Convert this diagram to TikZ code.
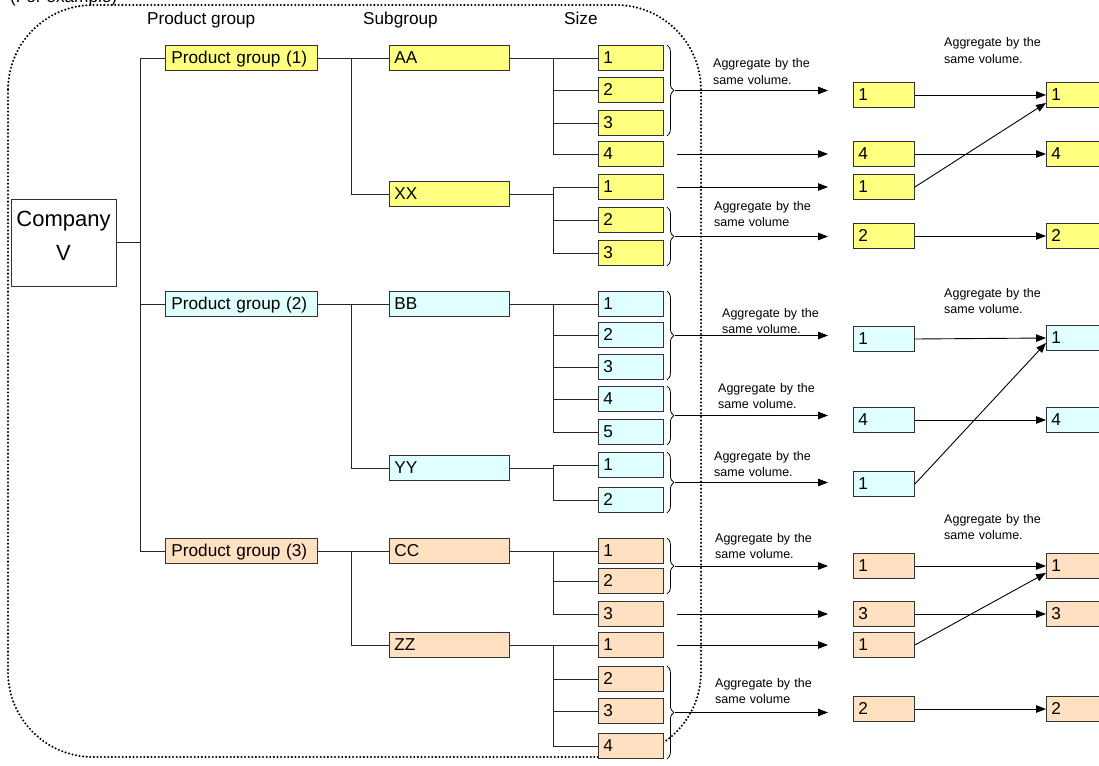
\documentclass[tikz,border=0pt]{standalone}
\usepackage{fontspec}
\setmainfont{Liberation Sans}
\usetikzlibrary{positioning,arrows.meta,calc,decorations.pathreplacing}

\definecolor{grpyellow}{RGB}{255,255,128}
\definecolor{grpcyan}{RGB}{224,255,255}
\definecolor{grppeach}{RGB}{255,224,192}

\begin{document}
\begin{tikzpicture}[x=1pt,y=-1pt,
  box/.style={draw=black!80, line width=0.9pt, anchor=west, align=left,
    minimum height=25pt, inner xsep=5pt, inner ysep=0pt,
    text height=13pt, text depth=2pt, font=\fontsize{17.2}{19}\selectfont},
  pgbox/.style={box, text width=140pt, inner xsep=6pt},
  subbox/.style={box, text width=110pt},
  sizebox/.style={box, text width=55pt},
  volbox/.style={box, text width=51pt},
  head/.style={anchor=base west, inner sep=0pt, font=\fontsize{17.2}{19}\selectfont},
  note/.style={anchor=base west, inner sep=0pt, text width=120pt, align=left,
    font=\fontsize{12.5}{16.5}\selectfont},
  conn/.style={line width=0.9pt, draw=black!85},
  arr/.style={line width=0.9pt, -{Triangle[length=10pt,width=7.5pt]}},
  brc/.style={line width=0.8pt, decorate, decoration={brace,amplitude=7pt}}]
\useasboundingbox (0,0) rectangle (1099,765);
\clip (0,0) rectangle (1099,765);

% dotted frame round the tree
\draw[line width=2.3pt, line cap=round, dash pattern=on 0pt off 3.6pt,
  rounded corners=85pt] (8,5) rectangle (701,757);

\node[head] (ex) at (10,3) {(For example)};
\node[head] (hpg) at (147,25) {Product group};
\node[head] (hsub) at (363,25) {Subgroup};
\node[head] (hsz) at (564,25) {Size};

\node[draw=black!80, line width=0.9pt, minimum width=105pt, minimum height=87pt,
  text width=105pt, align=center, inner sep=0pt, font=\fontsize{22}{34}\selectfont]
  (cv) at (63.5,242.5) {Company\\V\rule[-13pt]{0pt}{13pt}};

% product groups
\node[pgbox, fill=grpyellow] (pg1) at (165,58) {Product group (1)};
\node[pgbox, fill=grpcyan] (pg2) at (165,304) {Product group (2)};
\node[pgbox, fill=grppeach] (pg3) at (165,551) {Product group (3)};

% subgroups
\node[subbox, fill=grpyellow] (aa) at (389,58) {AA};
\node[subbox, fill=grpyellow] (xx) at (389,194) {XX};
\node[subbox, fill=grpcyan] (bb) at (389,304) {BB};
\node[subbox, fill=grpcyan] (yy) at (389,468) {YY};
\node[subbox, fill=grppeach] (cc) at (389,551) {CC};
\node[subbox, fill=grppeach] (zz) at (389,645) {ZZ};

% sizes
\node[sizebox, fill=grpyellow] (a1) at (598,58) {1};
\node[sizebox, fill=grpyellow] (a2) at (598,90) {2};
\node[sizebox, fill=grpyellow] (a3) at (598,123) {3};
\node[sizebox, fill=grpyellow] (a4) at (598,154) {4};
\node[sizebox, fill=grpyellow] (x1) at (598,187) {1};
\node[sizebox, fill=grpyellow] (x2) at (598,220) {2};
\node[sizebox, fill=grpyellow] (x3) at (598,253) {3};
\node[sizebox, fill=grpcyan] (b1) at (598,304) {1};
\node[sizebox, fill=grpcyan] (b2) at (598,335) {2};
\node[sizebox, fill=grpcyan] (b3) at (598,367) {3};
\node[sizebox, fill=grpcyan] (b4) at (598,399) {4};
\node[sizebox, fill=grpcyan] (b5) at (598,432) {5};
\node[sizebox, fill=grpcyan] (y1) at (598,465) {1};
\node[sizebox, fill=grpcyan] (y2) at (598,500) {2};
\node[sizebox, fill=grppeach] (c1) at (598,551) {1};
\node[sizebox, fill=grppeach] (c2) at (598,581) {2};
\node[sizebox, fill=grppeach] (c3) at (598,614) {3};
\node[sizebox, fill=grppeach] (z1) at (598,645) {1};
\node[sizebox, fill=grppeach] (z2) at (598,679) {2};
\node[sizebox, fill=grppeach] (z3) at (598,711) {3};
\node[sizebox, fill=grppeach] (z4) at (598,746) {4};

% aggregated volumes
\node[volbox, fill=grpyellow] (ym1) at (853,95) {1};
\node[volbox, fill=grpyellow] (ym4) at (853,154) {4};
\node[volbox, fill=grpyellow] (ym1b) at (853,187) {1};
\node[volbox, fill=grpyellow] (ym2) at (853,236) {2};
\node[volbox, fill=grpcyan] (cm1) at (853,339) {1};
\node[volbox, fill=grpcyan] (cm4) at (853,420) {4};
\node[volbox, fill=grpcyan] (cm1b) at (853,484) {1};
\node[volbox, fill=grppeach] (pm1) at (853,566) {1};
\node[volbox, fill=grppeach] (pm3) at (853,614) {3};
\node[volbox, fill=grppeach] (pm1b) at (853,645) {1};
\node[volbox, fill=grppeach] (pm2) at (853,709) {2};

\node[sizebox, fill=grpyellow] (yr1) at (1046,95) {1};
\node[sizebox, fill=grpyellow] (yr4) at (1046,154) {4};
\node[sizebox, fill=grpyellow] (yr2) at (1046,236) {2};
\node[sizebox, fill=grpcyan] (cr1) at (1046,338) {1};
\node[sizebox, fill=grpcyan] (cr4) at (1046,420) {4};
\node[sizebox, fill=grppeach] (pr1) at (1046,566) {1};
\node[sizebox, fill=grppeach] (pr3) at (1046,614) {3};
\node[sizebox, fill=grppeach] (pr2) at (1046,709) {2};

% tree: company -> product groups -> subgroups
\draw[conn] (pg1.west) -- ++(-25,0) coordinate (trk) -- (trk |- pg3.west) -- (pg3.west);
\draw[conn] (cv.east) -- (cv.east -| trk);
\draw[conn] (pg2.west) -- (pg2.west -| trk);
\draw[conn] (pg1.east) -- (aa.west);
\draw[conn] ([xshift=-38pt]aa.west) |- (xx.west);
\draw[conn] (pg2.east) -- (bb.west);
\draw[conn] ([xshift=-38pt]bb.west) |- (yy.west);
\draw[conn] (pg3.east) -- (cc.west);
\draw[conn] ([xshift=-38pt]cc.west) |- (zz.west);

% subgroups -> sizes
\draw[conn] (aa.east) -- (a1.west);
\draw[conn] ([xshift=-45pt]a1.west) |- (a4.west);
\foreach \n in {a2,a3} \draw[conn] (\n.west) -- ++(-45,0);
\draw[conn] (xx.east) -- ++(44,0);
\draw[conn] (x1.west) -- ++(-45,0) |- (x3.west);
\draw[conn] (x2.west) -- ++(-45,0);
\draw[conn] (bb.east) -- (b1.west);
\draw[conn] ([xshift=-45pt]b1.west) |- (b5.west);
\foreach \n in {b2,b3,b4} \draw[conn] (\n.west) -- ++(-45,0);
\draw[conn] (yy.east) -- ++(44,0);
\draw[conn] (y1.west) -- ++(-45,0) |- (y2.west);
\draw[conn] (cc.east) -- (c1.west);
\draw[conn] ([xshift=-45pt]c1.west) |- (c3.west);
\draw[conn] (c2.west) -- ++(-45,0);
\draw[conn] (zz.east) -- (z1.west);
\draw[conn] ([xshift=-45pt]z1.west) |- (z4.west);
\foreach \n in {z2,z3} \draw[conn] (\n.west) -- ++(-45,0);

% braces and arrows to the aggregated volumes
\draw[brc] ([xshift=3pt]a1.north east) -- ([xshift=3pt]a3.south east);
\coordinate (ka) at ($(a1.north east)!0.5!(a3.south east)+(11,0)$);
\draw[arr, shorten >=25pt] (ka) -- (ka -| ym1.west);
\draw[arr, shorten >=25pt] ([xshift=13pt]a4.east) -- (ym4.west);
\draw[arr, shorten >=25pt] ([xshift=13pt]x1.east) -- (ym1b.west);
\draw[brc] ([xshift=3pt]x2.north east) -- ([xshift=3pt]x3.south east);
\coordinate (kx) at ($(x2.north east)!0.5!(x3.south east)+(11,0)$);
\draw[arr, shorten >=25pt] (kx) -- (kx -| ym2.west);

\draw[brc] ([xshift=3pt]b1.north east) -- ([xshift=3pt]b3.south east);
\coordinate (kb) at ($(b1.north east)!0.5!(b3.south east)+(11,0)$);
\draw[arr, shorten >=25pt] (kb) -- (kb -| cm1.west);
\draw[brc] ([xshift=3pt]b4.north east) -- ([xshift=3pt]b5.south east);
\coordinate (kb4) at ($(b4.north east)!0.5!(b5.south east)+(11,0)$);
\draw[arr, shorten >=25pt] (kb4) -- (kb4 -| cm4.west);
\draw[brc] ([xshift=3pt]y1.north east) -- ([xshift=3pt]y2.south east);
\coordinate (ky) at ($(y1.north east)!0.5!(y2.south east)+(11,0)$);
\draw[arr, shorten >=25pt] (ky) -- (ky -| cm1b.west);

\draw[brc] ([xshift=3pt]c1.north east) -- ([xshift=3pt]c2.south east);
\coordinate (kc) at ($(c1.north east)!0.5!(c2.south east)+(11,0)$);
\draw[arr, shorten >=25pt] (kc) -- (kc -| pm1.west);
\draw[arr, shorten >=25pt] ([xshift=13pt]c3.east) -- (pm3.west);
\draw[arr, shorten >=25pt] ([xshift=13pt]z1.east) -- (pm1b.west);
\draw[brc] ([xshift=3pt]z2.north east) -- ([xshift=3pt]z4.south east);
\coordinate (kz) at ($(z2.north east)!0.5!(z4.south east)+(11,0)$);
\draw[arr, shorten >=25pt] (kz) -- (kz -| pm2.west);

% second aggregation
\draw[arr] (ym1.east) -- (yr1.west);
\draw[arr] (ym4.east) -- (yr4.west);
\draw[arr] (ym1b.east) -- ([yshift=5pt]yr1.south west);
\draw[arr] (ym2.east) -- (yr2.west);
\draw[arr] (cm1.east) -- (cr1.west);
\draw[arr] (cm4.east) -- (cr4.west);
\draw[arr] (cm1b.east) -- ([yshift=8pt]cr1.south west);
\draw[arr] (pm1.east) -- (pr1.west);
\draw[arr] (pm3.east) -- (pr3.west);
\draw[arr] (pm1b.east) -- ([yshift=6pt]pr1.south west);
\draw[arr] (pm2.east) -- (pr2.west);

% notes
\node[note] (na) at (713,68) {Aggregate by the\\same volume.};
\node[note] (nx) at (714,210) {Aggregate by the\\same volume};
\node[note] (nya) at (944,47) {Aggregate by the\\same volume.};
\node[note] (nb) at (722,317) {Aggregate by the\\same volume.};
\node[note] (nb4) at (718,392) {Aggregate by the\\same volume.};
\node[note] (ny) at (714,460) {Aggregate by the\\same volume.};
\node[note] (nca) at (944,297) {Aggregate by the\\same volume.};
\node[note] (nc) at (715,542) {Aggregate by the\\same volume.};
\node[note] (nz) at (715,687) {Aggregate by the\\same volume};
\node[note] (npa) at (944,523) {Aggregate by the\\same volume.};
\end{tikzpicture}
\end{document}
